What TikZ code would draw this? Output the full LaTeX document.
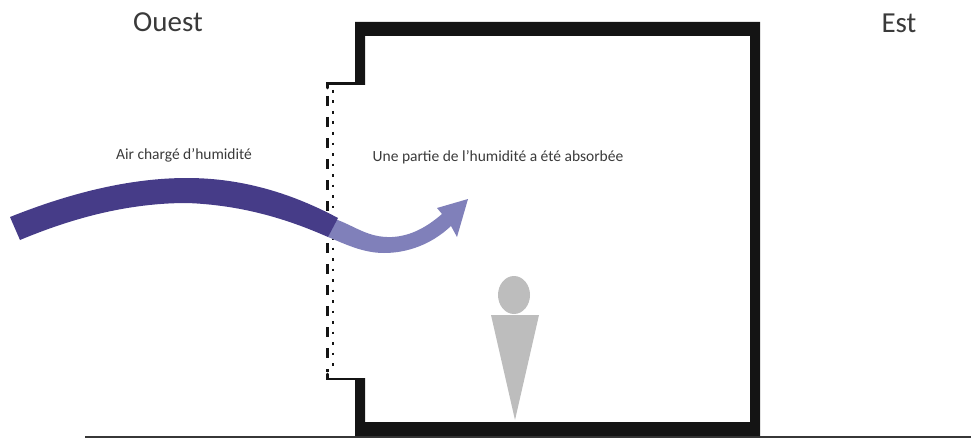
\documentclass[tikz,border=0pt]{standalone}
\usepackage{fontspec}
\setmainfont{Carlito}
\usetikzlibrary{positioning}
\definecolor{ink}{HTML}{141414}
\definecolor{label}{HTML}{3A3A3A}
\definecolor{humid}{HTML}{463C88}
\definecolor{dry}{HTML}{8080BA}
\definecolor{person}{HTML}{BDBDBD}
\tikzset{
  wall/.style={fill=ink,draw=none},
  side/.style={font=\fontsize{29}{32}\selectfont,text=label,inner sep=0pt},
  note/.style={font=\fontsize{15.5}{18}\selectfont,text=label,inner sep=0pt},
  ground/.style={draw=ink!85,line width=2pt},
  stub/.style={draw=ink,line width=2.8pt,line cap=round}
}
\begin{document}
\begin{tikzpicture}[x=1pt,y=-1pt]
  \useasboundingbox (0,0) rectangle (971,441);
  % ground and walls
  \draw[ground] (85,437) -- (971,437);
  \fill[wall] (355,22) -- (760,22) -- (760,436) -- (355,436) -- (355,378) -- (365,378) -- (365,422) -- (750,422) -- (750,36) -- (365,36) -- (365,85) -- (355,85) -- cycle;
  \draw[stub] (327.5,88) -- (327.5,83.5) -- (356,83.5);
  \draw[stub] (327.5,374) -- (327.5,379) -- (356,379);
  % porous facade
  \draw[ink,line width=3pt,dash pattern=on 10pt off 11pt] (327,96) -- (327,372);
  \draw[ink,line width=2.8pt,dash pattern=on 2.8pt off 7.7pt] (333,90) -- (333,372);
  % air flows
  \fill[dry] (335,219) .. controls (355,226) and (368,238) .. (392,237)
    .. controls (412,236) and (428,226) .. (442,214)
    -- (437,208) -- (468,199) -- (457,237) -- (451,226)
    .. controls (432,244) and (408,253) .. (384,253)
    .. controls (363,253) and (345,244) .. (328,237) -- cycle;
  \fill[humid] (10,217) .. controls (70,193) and (130,178) .. (187,178)
    .. controls (245,178) and (295,195) .. (338,218)
    -- (328,237) .. controls (285,218) and (240,205) .. (187,203)
    .. controls (130,203) and (75,217) .. (20,240) -- cycle;
  % person
  \fill[person] (514,295) ellipse [x radius=16,y radius=19];
  \fill[person] (491,315) -- (539,315) -- (515,420) -- cycle;
  % labels
  \node[side] (ouest) at (168,22) {Ouest};
  \node[side] (est) at (899,23) {Est};
  \node[note] (air) at (184,155) {Air chargé d’humidité};
  \node[note] (partie) at (498,157) {Une partie de l’humidité a été absorbée};
\end{tikzpicture}
\end{document}
